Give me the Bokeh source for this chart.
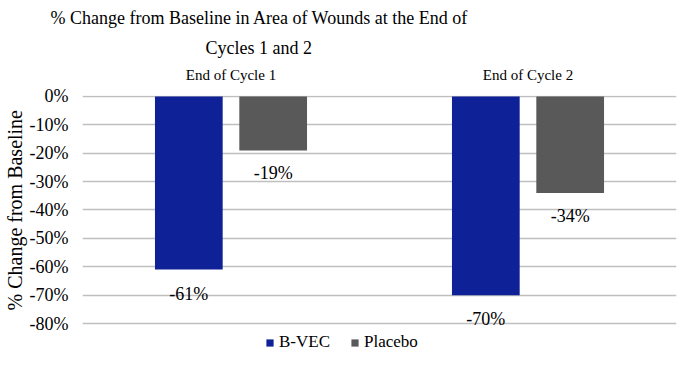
from bokeh.plotting import figure
from bokeh.models import (ColumnDataSource, FactorRange, Range1d, FixedTicker,
                          NumeralTickFormatter, Legend, LegendItem, Title)
from bokeh.transform import dodge
from bokeh.core.properties import value
from bokeh.embed import file_html
from bokeh.resources import INLINE

cycles = ["End of Cycle 1", "End of Cycle 2"]
bvec = [-0.61, -0.70]
placebo = [-0.19, -0.34]
bvec_labels = ["-61%", "-70%"]
placebo_labels = ["-19%", "-34%"]
y_ticks = [0, -0.1, -0.2, -0.3, -0.4, -0.5, -0.6, -0.7, -0.8]
series_names = ["B-VEC", "Placebo"]

FONT = "Liberation Serif"
BLUE = "#0F2196"
GREY = "#595959"

src = ColumnDataSource(dict(cycle=cycles, bvec=bvec, placebo=placebo,
                            bl=bvec_labels, pl=placebo_labels))

p = figure(width=677, height=353, output_backend="svg", toolbar_location=None,
           x_range=FactorRange(factors=cycles, range_padding=0),
           y_range=Range1d(-0.9057, 0.0035), x_axis_location="above",
           min_border_left=82, min_border_right=1, min_border_top=95,
           min_border_bottom=0)
p.outline_line_color = None
p.background_fill_color = "white"
p.border_fill_color = "white"

r1 = p.vbar(x=dodge("cycle", -0.142, range=p.x_range), top=0, bottom="bvec",
            width=0.228, source=src, fill_color=BLUE, line_color=None)
r2 = p.vbar(x=dodge("cycle", 0.142, range=p.x_range), top=0, bottom="placebo",
            width=0.228, source=src, fill_color=GREY, line_color=None)

p.text(x=dodge("cycle", -0.142, range=p.x_range), y="bvec", text="bl", source=src,
       text_align="center", text_baseline="middle", y_offset=24,
       text_font=value(FONT), text_font_size="18px", text_color="black")
p.text(x=dodge("cycle", 0.142, range=p.x_range), y="placebo", text="pl", source=src,
       text_align="center", text_baseline="middle", y_offset=23,
       text_font=value(FONT), text_font_size="18px", text_color="black")

# grid
p.xgrid.grid_line_color = None
p.ygrid.ticker = FixedTicker(ticks=y_ticks)
p.ygrid.grid_line_color = "#BFBFBF"
p.ygrid.grid_line_width = 1.5

# y axis
ya = p.yaxis[0]
ya.ticker = FixedTicker(ticks=y_ticks)
ya.formatter = NumeralTickFormatter(format="0%")
ya.axis_line_color = None
ya.major_tick_line_color = None
ya.minor_tick_line_color = None
ya.major_tick_out = 0
ya.major_tick_in = 0
ya.major_label_text_font = FONT
ya.major_label_text_font_size = "18px"
ya.major_label_text_color = "black"
ya.major_label_standoff = 14

p.add_layout(Title(text="% Change from Baseline", align="left", offset=43,
                   text_font=FONT, text_font_size="20px", text_font_style="normal",
                   text_color="black", standoff=2), "left")

# x axis (category labels above)
xa = p.xaxis[0]
xa.axis_line_color = None
xa.major_tick_line_color = None
xa.minor_tick_line_color = None
xa.major_tick_out = 0
xa.major_tick_in = 0
xa.major_label_text_font = FONT
xa.major_label_text_font_size = "15px"
xa.major_label_text_color = "black"
xa.major_label_standoff = 13

# titles
p.add_layout(Title(text="Cycles 1 and 2", align="left", offset=123,
                   text_font=FONT, text_font_size="18px", text_font_style="normal",
                   text_color="black", standoff=12), "above")
p.add_layout(Title(text="% Change from Baseline in Area of Wounds at the End of",
                   align="left", offset=-32, text_font=FONT,
                   text_font_size="18px", text_font_style="normal",
                   text_color="black", standoff=4), "above")

legend = Legend(items=[LegendItem(label=series_names[0], renderers=[r1]),
                       LegendItem(label=series_names[1], renderers=[r2])],
                orientation="horizontal", location=(183, 1),
                label_text_font=FONT, label_text_font_size="17px",
                label_text_color="black", glyph_width=9, glyph_height=9,
                label_height=18, label_standoff=5, spacing=20, padding=0,
                margin=0, border_line_color=None, background_fill_alpha=0)
p.add_layout(legend)

open("out.html", "w").write(file_html(p, INLINE))
